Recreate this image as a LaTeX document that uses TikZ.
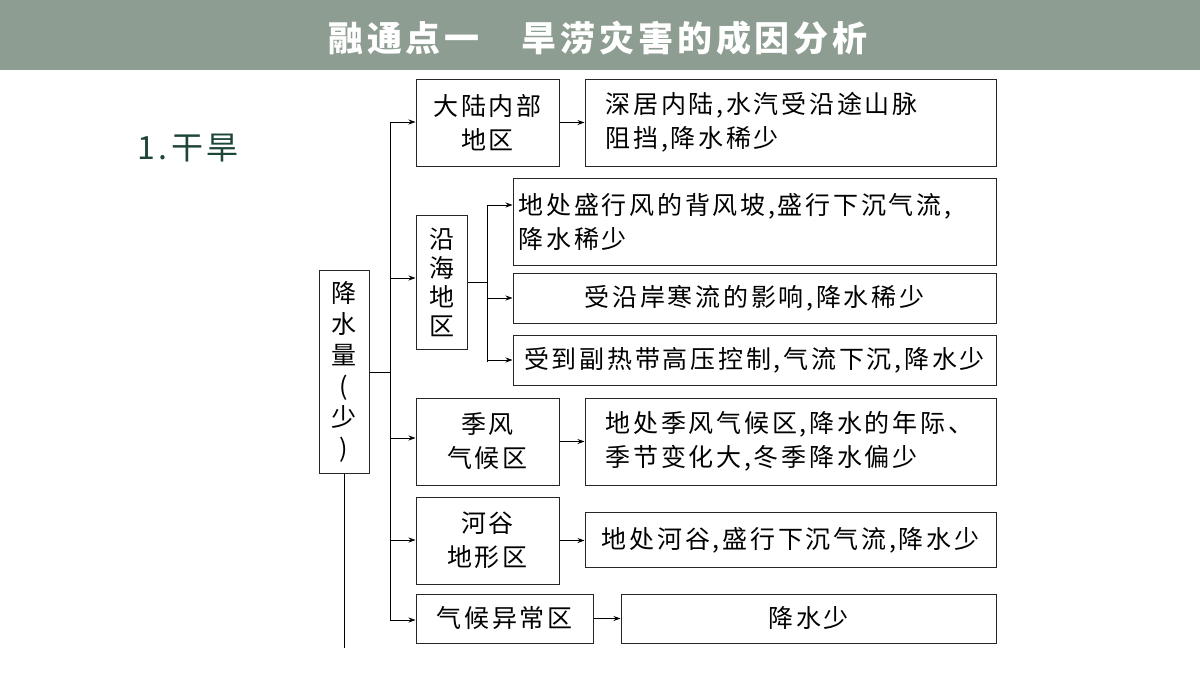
\documentclass[tikz,border=0pt]{standalone}
\usepackage{fontspec}
\setmainfont[LetterSpace=11]{Noto Sans CJK SC}
\usetikzlibrary{arrows.meta}
\definecolor{hdr}{RGB}{142,157,145}
\definecolor{tgreen}{RGB}{30,70,55}
\begin{document}
\begin{tikzpicture}[x=1pt,y=-1pt,
  bx/.style={draw=black!85,line width=1pt,inner sep=0pt,align=left,font=\fontsize{25}{34}\selectfont},
  cb/.style={bx,align=center},
  ar/.style={-{Stealth[length=7pt,width=5pt]},line width=0.8pt},
  ln/.style={line width=0.8pt}]
\useasboundingbox (0,0) rectangle (1200,675);
\fill[hdr] (0,0) rectangle (1200,70);
\node[text=white,font=\bfseries\fontsize{35}{38}\selectfont] (title) at (598,38) {融通点一\hspace{1.2em}旱涝灾害的成因分析};
\node[text=tgreen,font=\fontsize{32}{36}\selectfont] (sec) at (188,148) {1.干旱};
% main
\node[cb,minimum width=50pt,minimum height=203pt,font=\fontsize{25}{31}\selectfont] (main) at (344,371.5) {降\\水\\量\\(\\少\\)};
\coordinate (bot) at (344,648);
\draw[ln] (main.south) -- (bot);
\coordinate (tr) at (390,372);
\coordinate (ttop) at (390,122);
\coordinate (tbot) at (390,620);
\draw[ln] (main.east|-tr) -- (tr);
\draw[ln] (ttop) -- (tbot);
% level 1
\node[cb,minimum width=143pt,minimum height=87pt] (a) at (487.5,122.5) {大陆内部\\地区};
\node[cb,minimum width=51pt,minimum height=134pt,font=\fontsize{25}{29}\selectfont] (b) at (441.5,282) {沿\\海\\地\\区};
\node[cb,minimum width=143pt,minimum height=87pt] (c) at (487.5,441.5) {季风\\气候区};
\node[cb,minimum width=143pt,minimum height=87pt] (d) at (487.5,540.5) {河谷\\地形区};
\node[cb,minimum width=177pt,minimum height=49pt] (e) at (504.5,618.5) {气候异常区};
\foreach \n/\y in {a/122,b/278,c/438,d/540,e/620}
  \draw[ar] (390,\y) -- (\n.west|-0,\y);
% level 2
\node[bx,minimum width=411pt,minimum height=87pt,text width=370pt] (a1) at (790.5,122.5) {深居内陆,水汽受沿途山脉\\阻挡,降水稀少};
\draw[ar] (a.east) -- (a1.west|-a.east);
\node[bx,minimum width=483pt,minimum height=87pt,text width=472pt] (b1) at (754.5,221.5) {地处盛行风的背风坡,盛行下沉气流,\\降水稀少};
\node[cb,minimum width=483pt,minimum height=50pt] (b2) at (754.5,298) {受沿岸寒流的影响,降水稀少};
\node[cb,minimum width=483pt,minimum height=50pt] (b3) at (754.5,360) {受到副热带高压控制,气流下沉,降水少};
\coordinate (bj) at (487,282);
\draw[ln] (b.east|-bj) -- (bj);
\draw[ln] (487,205) -- (487,362);
\foreach \n/\y in {b1/205,b2/298,b3/360}
  \draw[ar] (487,\y) -- (\n.west|-0,\y);
\node[bx,minimum width=411pt,minimum height=87pt,text width=370pt] (c1) at (790.5,441.5) {地处季风气候区,降水的年际、\\季节变化大,冬季降水偏少};
\draw[ar] (c.east) -- (c1.west|-c.east);
\node[cb,minimum width=411pt,minimum height=55pt] (d1) at (790.5,540) {地处河谷,盛行下沉气流,降水少};
\draw[ar] (d.east) -- (d1.west|-d.east);
\node[cb,minimum width=375pt,minimum height=49pt] (e1) at (808.5,618.5) {降水少};
\draw[ar] (e.east) -- (e1.west);
\end{tikzpicture}
\end{document}
